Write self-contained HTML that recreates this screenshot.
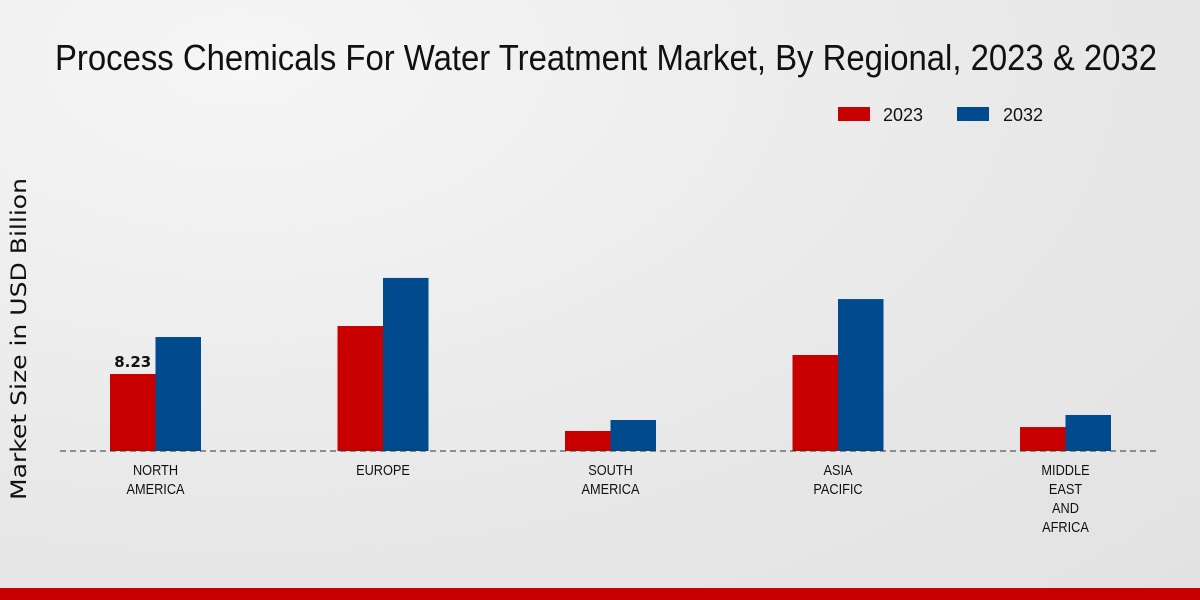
<!DOCTYPE html>
<html><head><meta charset="utf-8"><style>
html,body{margin:0;padding:0;width:1200px;height:600px;overflow:hidden;font-family:"Liberation Sans",sans-serif}
#bg{position:absolute;left:0;top:0;width:1200px;height:600px;background:radial-gradient(ellipse at 20% 10%,#f6f6f6 0%,#e8e8e8 60%,#e2e2e2 100%)}
</style></head><body>
<div id="bg"></div>
<svg id="c" width="1200" height="600" style="position:absolute;left:0;top:0">
<text x="55" y="70" textLength="1102" lengthAdjust="spacingAndGlyphs" font-size="36" fill="#111">Process Chemicals For Water Treatment Market, By Regional, 2023 &amp; 2032</text>
<g>
<rect x="838" y="107" width="32" height="14" fill="#c80000"/>
<text x="883" y="121" font-size="18" textLength="40" lengthAdjust="spacingAndGlyphs" fill="#111">2023</text>
<rect x="957" y="107" width="32" height="14" fill="#004a8d"/>
<text x="1003" y="121" font-size="18" textLength="40" lengthAdjust="spacingAndGlyphs" fill="#111">2032</text>
</g>
<text transform="translate(26,339) rotate(-90)" text-anchor="middle" font-family="'DejaVu Sans',sans-serif" font-size="21" textLength="322" lengthAdjust="spacingAndGlyphs" fill="#111">Market Size in USD Billion</text>
<g id="bars"></g>
<line x1="60" y1="451" x2="1160" y2="451" stroke="#333" stroke-dasharray="6,4" stroke-width="1"/>
<g id="labels"></g>
<rect x="0" y="588" width="1200" height="12" fill="#c80000"/>
</svg>
<script>
const categories=[["NORTH","AMERICA"],["EUROPE"],["SOUTH","AMERICA"],["ASIA","PACIFIC"],["MIDDLE","EAST","AND","AFRICA"]];
const values2023=[8.23,13.36,2.14,10.26,2.56];
const values2032=[12.18,18.5,3.31,16.24,3.85];
const valueLabels=["8.23",null,null,null,null];
const NS="http://www.w3.org/2000/svg";
const base=451,scale=77/8.23,x0=155.5,step=227.5,bw=45.5;
const y=v=>base-v*scale;
const xc=i=>x0+i*step;
const bars=document.getElementById('bars'),labels=document.getElementById('labels');
categories.forEach((cat,i)=>{
 [[values2023,"#c80000",-bw,"2023"],[values2032,"#004a8d",0,"2032"]].forEach(([arr,col,off,yr])=>{
  const r=document.createElementNS(NS,'rect');
  r.setAttribute('x',xc(i)+off);r.setAttribute('y',y(arr[i]));
  r.setAttribute('width',bw);r.setAttribute('height',base-y(arr[i]));r.setAttribute('fill',col);
  
  
  bars.appendChild(r);
 });
 if(valueLabels[i]){
  const t=document.createElementNS(NS,'text');
  t.setAttribute('x',xc(i)-bw/2);t.setAttribute('y',y(values2023[i])-7);
  t.setAttribute('text-anchor','middle');t.setAttribute('font-size','15');t.setAttribute('font-weight','bold');t.setAttribute('fill','#111');
  t.setAttribute('font-family',"'DejaVu Sans',sans-serif");
  t.textContent=valueLabels[i];
  
  
  bars.appendChild(t);
 }
 cat.forEach((line,j)=>{
  const t=document.createElementNS(NS,'text');
  t.setAttribute('x',xc(i));t.setAttribute('y',475+j*19);
  t.setAttribute('text-anchor','middle');t.setAttribute('font-size','15');
  t.setAttribute('fill','#111');
  t.setAttribute('transform','translate('+xc(i)+',0) scale(0.85,1) translate('+(-xc(i))+',0)');
  t.textContent=line;
  
  
  labels.appendChild(t);
 });
});
</script>
</body></html>
